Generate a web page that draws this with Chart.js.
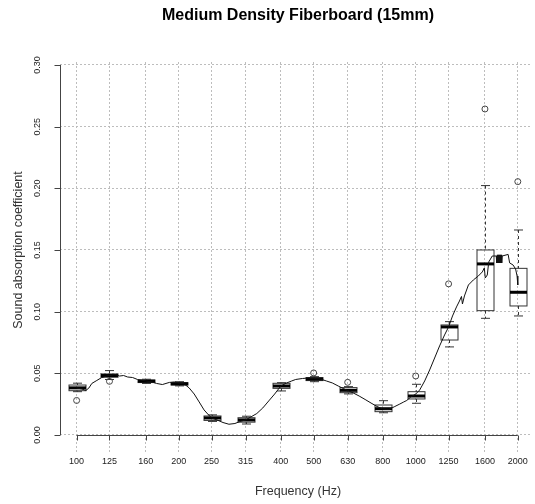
<!DOCTYPE html>
<html>
<head>
<meta charset="utf-8">
<script src="https://cdn.jsdelivr.net/npm/chart.js@4.4.1/dist/chart.umd.min.js"></script>
<style>
  html, body { margin: 0; padding: 0; background: #fff; }
  #wrap { position: relative; width: 535px; height: 504px; }
</style>
</head>
<body>
<div id="wrap"><canvas id="chart"></canvas></div>
<script>
// boxplot categories (Hz, log axis)
const freqs = [100, 125, 160, 200, 250, 315, 400, 500, 630, 800, 1000, 1250, 1600, 2000];
const freqLabels = ['100', '125', '160', '200', '250', '315', '400', '500', '630', '800', '1000', '1250', '1600', '2000'];

const boxLow  = [0.0351, 0.0450, 0.0418, 0.0398, 0.0110, 0.0089, 0.0357, 0.0432, 0.0333, 0.0180, 0.0257, 0.0714, 0.0946, 0.0965];
const boxQ1   = [0.0359, 0.0468, 0.0425, 0.0405, 0.0118, 0.0104, 0.0378, 0.0441, 0.0343, 0.0189, 0.0292, 0.0770, 0.1008, 0.1046];
const boxMed  = [0.0382, 0.0482, 0.0436, 0.0415, 0.0138, 0.0122, 0.0397, 0.0454, 0.0362, 0.0213, 0.0316, 0.0876, 0.1387, 0.1157];
const boxQ3   = [0.0405, 0.0495, 0.0446, 0.0424, 0.0154, 0.0140, 0.0419, 0.0465, 0.0384, 0.0243, 0.0351, 0.0892, 0.1500, 0.1351];
const boxHigh = [0.0420, 0.0522, 0.0452, 0.0432, 0.0163, 0.0152, 0.0424, 0.0473, 0.0392, 0.0278, 0.0411, 0.0919, 0.2022, 0.1662];

const outFreq = [100, 125, 500, 630, 1000, 1250, 1600, 2000];
const outVal  = [0.0280, 0.0435, 0.0503, 0.0427, 0.0478, 0.1225, 0.2643, 0.2054];

// measured curve
const curveFreq = [100, 103.6, 106.5, 108.7, 110.9, 114.7, 118.6, 122.7, 125, 129.5, 133.9, 137.6, 141.4, 146.2, 151.2, 160, 166.3, 172, 179, 187.7,
  194.1, 200, 207.7, 214.8, 222.2, 229.8, 237.6, 245.8, 250, 259.4, 270.2, 281.3, 293, 302.9, 315, 326.4, 339.9, 354, 368.6, 383.7,
  400, 416.5, 430.8, 442.6, 463.4, 482.6, 500, 523.3, 545, 567.5, 590.9, 611.1, 630, 653.9, 680.9, 709, 738.3, 768.8, 800, 833.4,
  867.8, 897.5, 922.1, 941, 966.8, 1000, 1027.4, 1062.7, 1099.1, 1136.8, 1176, 1216.3, 1250, 1283.8, 1318.9, 1345.8, 1364.1, 1373.3, 1392, 1430,
  1479, 1529.8, 1571.6, 1593, 1603.8, 1625.5, 1642, 1681.4, 1727.4, 1733.3, 1739.1, 1745.0, 1750.9, 1756.8, 1762.7, 1768.7, 1774.6, 1780.6,
  1786.6, 1792.7, 1798.7, 1872.9, 1891.9, 1937.1, 1970, 1990, 2000];
const curveVal = [0.0381, 0.0373, 0.0361, 0.0381, 0.0418, 0.0442, 0.0466, 0.0478, 0.0482, 0.0491, 0.0478, 0.0482, 0.0470, 0.0466, 0.0450, 0.0438, 0.0430, 0.0418, 0.0409, 0.0426,
  0.0430, 0.0422, 0.0414, 0.0381, 0.0332, 0.0268, 0.0203, 0.0158, 0.0138, 0.0122, 0.0101, 0.0087, 0.0093, 0.0109, 0.0122, 0.0146, 0.0174, 0.0219, 0.0276, 0.0332,
  0.0397, 0.0422, 0.0438, 0.0450, 0.0458, 0.0462, 0.0458, 0.0454, 0.0438, 0.0422, 0.0397, 0.0377, 0.0361, 0.0341, 0.0316, 0.0288, 0.0259, 0.0231, 0.0211, 0.0207,
  0.0231, 0.0251, 0.0268, 0.0280, 0.0308, 0.0332, 0.0365, 0.0438, 0.0527, 0.0624, 0.0722, 0.0811, 0.0876, 0.0965, 0.1038, 0.1086, 0.1123, 0.1062, 0.1127, 0.1216,
  0.1257, 0.1289, 0.1322, 0.1354, 0.1273, 0.1297, 0.1403, 0.1451, 0.1451, 0.1395, 0.1460, 0.1395, 0.1460, 0.1395, 0.1460, 0.1395, 0.1460, 0.1395,
  0.1460, 0.1395, 0.1451, 0.1464, 0.1395, 0.1378, 0.1346, 0.1289, 0.1216];

const yTicks = [0, 0.05, 0.10, 0.15, 0.20, 0.25, 0.30];
const yTickLabels = ['0.00', '0.05', '0.10', '0.15', '0.20', '0.25', '0.30'];

const FONT = '"Liberation Sans", Arial, Helvetica, sans-serif';

/*////////////////////////////// boxes, axes and texts //////////////////////////////////*/
const rPlot = {
    id: 'rPlot',
    beforeDatasetsDraw(chart) {
        const ctx = chart.ctx;
        const x = chart.scales.x, y = chart.scales.y;
        const half = 8.5;
        ctx.save();
        freqs.forEach((f, i) => {
            const cx = Math.round(x.getPixelForValue(f)) + 0.5;
            const pHi = y.getPixelForValue(boxHigh[i]);
            const pQ3 = y.getPixelForValue(boxQ3[i]);
            const pQ1 = y.getPixelForValue(boxQ1[i]);
            const pLo = y.getPixelForValue(boxLow[i]);
            const pMed = y.getPixelForValue(boxMed[i]);

            ctx.strokeStyle = '#333';
            ctx.lineWidth = 1;
            ctx.setLineDash([3, 3]);
            ctx.beginPath();
            ctx.moveTo(cx, pHi); ctx.lineTo(cx, pQ3);
            ctx.moveTo(cx, pQ1); ctx.lineTo(cx, pLo);
            ctx.stroke();
            ctx.setLineDash([]);

            ctx.beginPath();
            ctx.moveTo(cx - 4.5, pHi); ctx.lineTo(cx + 4.5, pHi);
            ctx.moveTo(cx - 4.5, pLo); ctx.lineTo(cx + 4.5, pLo);
            ctx.stroke();

            ctx.strokeRect(cx - half, pQ3, half * 2, pQ1 - pQ3);

            ctx.strokeStyle = '#000';
            ctx.lineWidth = 3;
            ctx.beginPath();
            ctx.moveTo(cx - half, pMed); ctx.lineTo(cx + half, pMed);
            ctx.stroke();
        });
        ctx.restore();
    },
    afterDraw(chart) {
        const ctx = chart.ctx;
        const x = chart.scales.x, y = chart.scales.y;
        const y0 = Math.round(y.getPixelForValue(0)) + 0.5;
        const axX = chart.chartArea.left + 0.5;
        ctx.save();
        ctx.strokeStyle = '#444';
        ctx.lineWidth = 1;

        // x axis
        ctx.beginPath();
        ctx.moveTo(x.getPixelForValue(freqs[0]), y0);
        ctx.lineTo(x.getPixelForValue(freqs[freqs.length - 1]), y0);
        freqs.forEach(f => {
            const px = Math.round(x.getPixelForValue(f)) + 0.5;
            ctx.moveTo(px, y0); ctx.lineTo(px, y0 + 5);
        });
        // y axis
        ctx.moveTo(axX, y.getPixelForValue(0));
        ctx.lineTo(axX, y.getPixelForValue(0.30));
        yTicks.forEach(v => {
            const py = Math.round(y.getPixelForValue(v)) + 0.5;
            ctx.moveTo(axX, py); ctx.lineTo(axX - 6, py);
        });
        ctx.stroke();

        ctx.fillStyle = '#222';
        ctx.font = '9px ' + FONT;
        ctx.textAlign = 'center';
        ctx.textBaseline = 'middle';
        freqs.forEach((f, i) => {
            ctx.fillText(freqLabels[i], x.getPixelForValue(f), 462);
        });
        yTicks.forEach((v, i) => {
            ctx.save();
            ctx.translate(38, y.getPixelForValue(v));
            ctx.rotate(-Math.PI / 2);
            ctx.fillText(yTickLabels[i], 0, 0);
            ctx.restore();
        });

        ctx.fillStyle = '#333';
        ctx.font = '12.5px ' + FONT;
        ctx.fillText('Frequency (Hz)', 298, 492);
        ctx.save();
        ctx.translate(19, 250);
        ctx.rotate(-Math.PI / 2);
        ctx.fillText('Sound absorption coefficient', 0, 0);
        ctx.restore();

        ctx.fillStyle = '#000';
        ctx.font = 'bold 16px ' + FONT;
        ctx.fillText('Medium Density Fiberboard (15mm)', 298, 16);
        ctx.restore();
    }
};

const ctx = document.getElementById('chart').getContext('2d');
new Chart(ctx, {
    type: 'scatter',
    data: {
        datasets: [{
            label: 'curve',
            data: curveFreq.map((f, i) => ({ x: f, y: curveVal[i] })),
            showLine: true,
            borderColor: '#111',
            borderWidth: 1,
            pointRadius: 0,
            tension: 0
        }, {
            label: 'outliers',
            data: outFreq.map((f, i) => ({ x: f, y: outVal[i] })),
            showLine: false,
            pointRadius: 3,
            pointStyle: 'circle',
            borderColor: '#444',
            borderWidth: 1,
            backgroundColor: 'rgba(0,0,0,0)'
        }]
    },
    options: {
        responsive: true,
        maintainAspectRatio: false,
        animation: false,
        events: [],
        layout: { padding: { left: 60, right: 2, top: 62, bottom: 52 } },
        plugins: {
            legend: { display: false },
            tooltip: { enabled: false },
            title: { display: false }
        },
        scales: {
            x: {
                type: 'logarithmic',
                min: 89.33,
                max: 2172.6,
                afterBuildTicks: scale => { scale.ticks = freqs.map(v => ({ value: v })); },
                ticks: { display: false },
                grid: { color: '#bdbdbd', lineWidth: 1, drawTicks: false },
                border: { display: false, dash: [2, 2] }
            },
            y: {
                type: 'linear',
                min: -0.0138,
                max: 0.3024,
                afterBuildTicks: scale => { scale.ticks = yTicks.map(v => ({ value: v })); },
                ticks: { display: false },
                grid: { color: '#bdbdbd', lineWidth: 1, drawTicks: false },
                border: { display: false, dash: [2, 2] }
            }
        }
    },
    plugins: [rPlot]
});
</script>
</body>
</html>
